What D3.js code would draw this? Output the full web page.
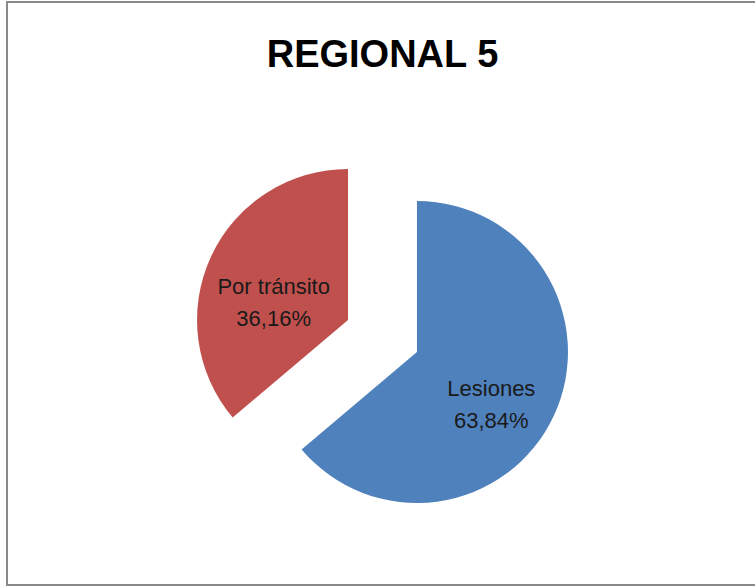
<!DOCTYPE html>
<html>
<head>
<meta charset="utf-8">
<script src="https://cdn.jsdelivr.net/npm/d3@7"></script>
<style>
  html, body { margin: 0; padding: 0; background: #fff; }
  svg { display: block; }
</style>
</head>
<body>
<svg id="chart"></svg>
<script>
// Data
const categories = ['Lesiones', 'Por tránsito'];
const values = [63.84, 36.16];
const colors = ['#4F81BD', '#C0504D'];
const chartTitle = 'REGIONAL 5';

// Layout
const layout = {
  width: 755,
  height: 587,
  cx: 382.5,
  cy: 336,
  radius: 151,
  explode: 38,
  labelRadius: 82,
};

const svg = d3.select('#chart')
  .attr('width', layout.width)
  .attr('height', layout.height);

// Chart frame
svg.append('rect')
  .attr('x', 7)
  .attr('y', 2)
  .attr('width', 770)
  .attr('height', 583)
  .attr('fill', '#fff')
  .attr('stroke', '#898989')
  .attr('stroke-width', 2);

// Title
svg.append('text')
  .attr('x', layout.cx)
  .attr('y', 67)
  .attr('text-anchor', 'middle')
  .style('font-family', '"Liberation Sans", Arial, sans-serif')
  .style('font-weight', 'bold')
  .style('font-size', '38px')
  .style('fill', '#000')
  .text(chartTitle);

const data = categories.map(function(c, i) {
  return { name: c, value: values[i], color: colors[i] };
});

const pie = d3.pie()
  .sort(null)
  .value(function(d) { return d.value; });

const arc = d3.arc()
  .innerRadius(0)
  .outerRadius(layout.radius);

// Unit direction of a slice's middle angle
function direction(d) {
  const a = (d.startAngle + d.endAngle) / 2;
  return [Math.sin(a), -Math.cos(a)];
}

const stage = svg.append('g')
  .attr('transform', `translate(${layout.cx},${layout.cy})`);

const slices = stage.selectAll('g.slice')
  .data(pie(data))
  .join('g')
  .attr('class', 'slice')
  .attr('transform', function(d) {
    const dir = direction(d);
    return `translate(${dir[0] * layout.explode},${dir[1] * layout.explode})`;
  });

slices.append('path')
  .attr('d', arc)
  .attr('fill', function(d) { return d.data.color; });

// Labels: name + percentage
const labels = slices.append('text')
  .attr('text-anchor', 'middle')
  .attr('transform', function(d) {
    const dir = direction(d);
    return `translate(${dir[0] * layout.labelRadius},${dir[1] * layout.labelRadius + 17})`;
  })
  .style('font-family', '"Liberation Sans", Arial, sans-serif')
  .style('font-size', '22px')
  .style('fill', '#1a1a1a');

labels.append('tspan')
  .attr('x', 0)
  .attr('y', -8)
  .text(function(d) { return d.data.name; });

labels.append('tspan')
  .attr('x', 0)
  .attr('y', 24)
  .text(function(d) { return d3.format('.2f')(d.data.value).replace('.', ',') + '%'; });
</script>
</body>
</html>
